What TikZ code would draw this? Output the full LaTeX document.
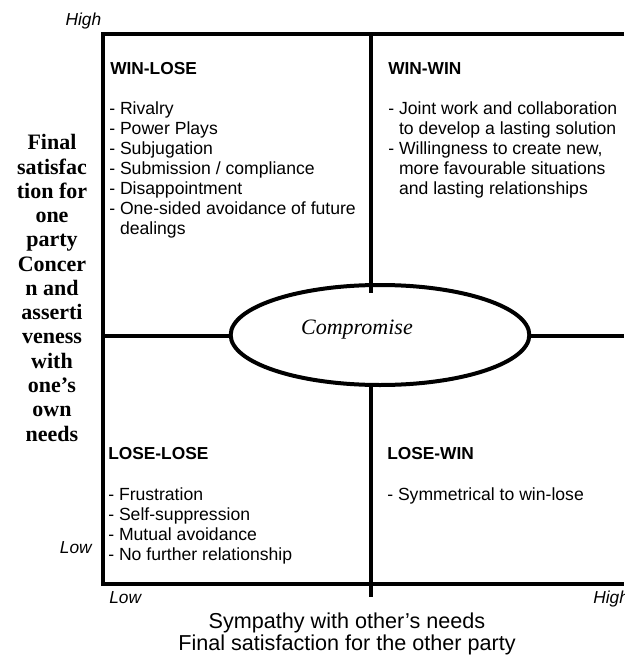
\documentclass[tikz,border=0pt]{standalone}
\usepackage{fontspec}
\setmainfont{Liberation Serif}
\setsansfont{Liberation Sans}
\usetikzlibrary{shapes.geometric}

\tikzset{
  frameline/.style={line width=2.6pt},
  midline/.style={line width=3pt},
  quadtitle/.style={anchor=base west, inner sep=0pt, font=\sffamily\bfseries\fontsize{13}{15}\selectfont},
  quadlist/.style={anchor=north west, inner sep=0pt, align=left, font=\sffamily\fontsize{13.2}{15}\selectfont},
  scalemark/.style={inner sep=0pt, font=\sffamily\itshape\fontsize{13}{15}\selectfont},
}

\begin{document}
\begin{tikzpicture}[x=0.75pt,y=-0.75pt]
\useasboundingbox (0,0) rectangle (624,656);
% frame and quadrant lines
\coordinate (tl) at (103,34);
\coordinate (tr) at (624,34);
\coordinate (bl) at (103,584);
\coordinate (br) at (624,584);
\coordinate (topmid) at (371,34);
\coordinate (compin) at (371,293);
\coordinate (botmid) at (371,597);
\coordinate (midleft) at (103,336);
\coordinate (midright) at (624,336);
\node[ellipse, draw, midline, minimum width=224pt, minimum height=75pt, inner sep=0pt] (comp) at (380,335) {};
\node[inner sep=0pt, anchor=base, font=\rmfamily\itshape\fontsize{16.5}{18}\selectfont] (comptext) at (357,334) {Compromise};
\draw[frameline] (tr) -- (tl) -- (bl) -- (br);
\draw[midline] (midleft) -- (midleft -| comp.west);
\draw[midline] (midright -| comp.east) -- (midright);
\draw[midline] (topmid) -- (compin);
\draw[midline] (comp.south -| botmid) -- (botmid);

% axis texts
\node[scalemark, anchor=base east] (yhigh) at (101.5,26) {High};
\node[scalemark, anchor=base east] (ylow) at (92,553) {Low};
\node[scalemark, anchor=base west] (xlow) at (109,603) {Low};
\node[scalemark, anchor=base west] (xhigh) at (593,603) {High};
\node[align=center, anchor=north, inner sep=0pt, font=\rmfamily\bfseries\fontsize{16.5}{18.2}\selectfont] (yaxis) at (52,134.3)
  {Final\\satisfac\\tion for\\one\\party\\Concer\\n and\\asserti\\veness\\with\\one's\\own\\needs};
\node[align=center, anchor=north, inner sep=0pt, font=\sffamily\fontsize{16.2}{16.5}\selectfont] (xaxis) at (347,612.2)
  {Sympathy with other's needs\\Final satisfaction for the other party};

% quadrants
\node[quadtitle] (winlose) at (110,75) {WIN-LOSE};
\node[quadlist] (winloselist) at (109,101.4) {- Rivalry\\- Power Plays\\- Subjugation\\- Submission / compliance\\- Disappointment\\- One-sided avoidance of future\\\hphantom{- }dealings};
\node[quadtitle] (winwin) at (388,74.5) {WIN-WIN};
\node[quadlist] (winwinlist) at (388,101.4) {- Joint work and collaboration\\\hphantom{- }to develop a lasting solution\\- Willingness to create new,\\\hphantom{- }more favourable situations\\\hphantom{- }and lasting relationships};
\node[quadtitle] (loselose) at (108,459) {LOSE-LOSE};
\node[quadlist] (loseloselist) at (108,487.4) {- Frustration\\- Self-suppression\\- Mutual avoidance\\- No further relationship};
\node[quadtitle] (losewin) at (387,459) {LOSE-WIN};
\node[quadlist] (losewinlist) at (387,487.4) {- Symmetrical to win-lose};
\end{tikzpicture}
\end{document}
